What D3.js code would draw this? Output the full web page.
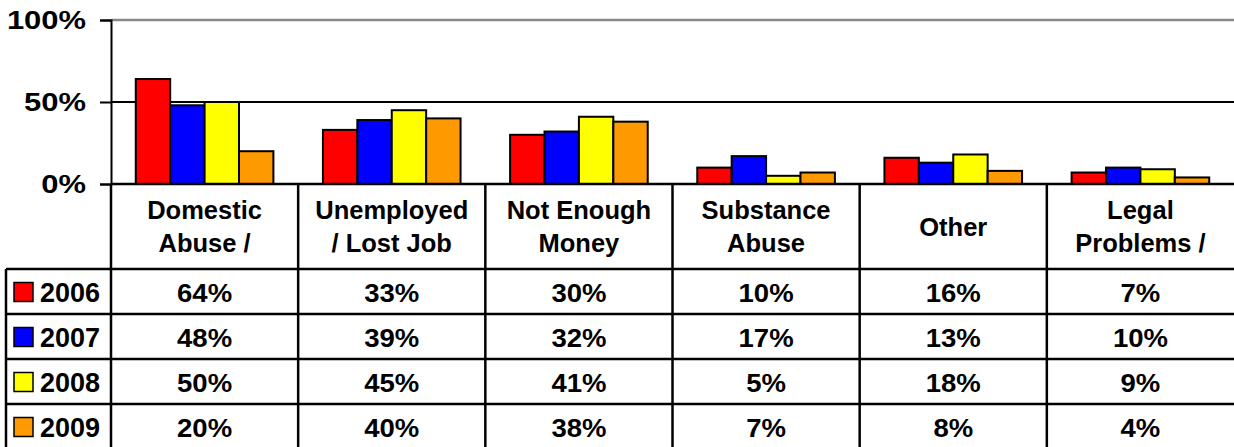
<!DOCTYPE html>
<html>
<head>
<meta charset="utf-8">
<script src="https://cdn.jsdelivr.net/npm/d3@7"></script>
<style>
  html, body { margin: 0; padding: 0; background: #fff; }
  svg { display: block; }
  text { font-family: "Liberation Sans", Arial, Helvetica, sans-serif; font-weight: bold; fill: #000; }
</style>
</head>
<body>
<svg id="chart" width="1234" height="447"></svg>
<script>
const categories = ["Domestic Abuse /", "Unemployed / Lost Job", "Not Enough Money", "Substance Abuse", "Other", "Legal Problems /"];
const categoryLines = [["Domestic", "Abuse /"], ["Unemployed", "/ Lost Job"], ["Not Enough", "Money"], ["Substance", "Abuse"], ["Other"], ["Legal", "Problems /"]];
const years = ["2006", "2007", "2008", "2009"];
const values2006 = [64, 33, 30, 10, 16, 7];
const values2007 = [48, 39, 32, 17, 13, 10];
const values2008 = [50, 45, 41, 5, 18, 9];
const values2009 = [20, 40, 38, 7, 8, 4];
const colors = ["#FF0000", "#0000FF", "#FFFF00", "#FF9900"];
const yTicks = [0, 50, 100];

const series = [values2006, values2007, values2008, values2009];

const svg = d3.select("#chart");
const W = 1234, H = 447;
const plotLeft = 111, plotRight = 1234;
const yTop = 20, yBottom = 184;
const headerBottom = 269;
const rowH = 45;
const tableLeft = 6;

const x = d3.scaleBand().domain(categories).range([plotLeft, plotRight]).padding(0);
const x1 = d3.scaleBand().domain(years).range([0, x.bandwidth()]).paddingInner(0).paddingOuter(0.72);
const y = d3.scaleLinear().domain([0, 100]).range([yBottom, yTop]);

// gridlines
svg.append("g").selectAll("line").data(yTicks.filter(d => d > 0)).join("line")
  .attr("x1", plotLeft).attr("x2", plotRight)
  .attr("y1", d => y(d)).attr("y2", d => y(d))
  .attr("stroke", d => d === 100 ? "#888" : "#000")
  .attr("stroke-width", d => d === 100 ? 2.5 : 2);

// bars
const groups = svg.append("g").selectAll("g").data(categories).join("g")
  .attr("transform", d => `translate(${x(d)},0)`);
groups.selectAll("rect").data((c, i) => years.map((yr, j) => ({yr, v: series[j][i], j}))).join("rect")
  .attr("x", d => x1(d.yr))
  .attr("width", x1.bandwidth())
  .attr("y", d => y(d.v))
  .attr("height", d => yBottom - y(d.v))
  .attr("fill", d => colors[d.j])
  .attr("stroke", "#000")
  .attr("stroke-width", 2);

// y axis
const yAxis = svg.append("g").attr("transform", `translate(${plotLeft},0)`)
  .call(d3.axisLeft(y).tickValues(yTicks).tickFormat(d => d + "%").tickSize(11).tickPadding(25));
yAxis.select(".domain").attr("stroke", "#000").attr("stroke-width", 2);
yAxis.selectAll(".tick line").attr("stroke", "#000").attr("stroke-width", 2);
yAxis.selectAll(".tick text")
  .attr("font-size", 26)
  .attr("font-family", '"Liberation Sans", Arial, sans-serif')
  .attr("font-weight", "bold").attr("fill", "#000")
  .attr("x", 0).attr("dy", null)
  .attr("transform", "translate(-25,8) scale(1.19,1)");

// table lines
const tbl = svg.append("g");
tbl.append("line").attr("x1", plotLeft).attr("x2", plotRight).attr("y1", yBottom).attr("y2", yBottom)
  .attr("stroke", "#000").attr("stroke-width", 2.5);
const rowYs = d3.range(years.length).map(i => headerBottom + i * rowH);
tbl.selectAll("line.row").data(rowYs).join("line").attr("class", "row")
  .attr("x1", tableLeft).attr("x2", plotRight).attr("y1", d => d).attr("y2", d => d)
  .attr("stroke", "#000").attr("stroke-width", 2.5);
tbl.selectAll("line.col").data(categories).join("line").attr("class", "col")
  .attr("x1", d => x(d)).attr("x2", d => x(d)).attr("y1", yBottom).attr("y2", H)
  .attr("stroke", "#000").attr("stroke-width", 2.5);
tbl.append("line").attr("x1", tableLeft).attr("x2", tableLeft).attr("y1", headerBottom).attr("y2", H)
  .attr("stroke", "#000").attr("stroke-width", 2.5);

// category headers
const hdr = svg.append("g").selectAll("text").data(categories).join("text")
  .attr("text-anchor", "middle")
  .attr("font-size", 25.5)
  .attr("x", d => x(d) + x.bandwidth() / 2);
hdr.each(function(d, i) {
  const lines = categoryLines[i];
  const t = d3.select(this);
  const lh = 33;
  const mid = (yBottom + headerBottom) / 2 + 9;
  const start = mid - (lines.length - 1) * lh / 2;
  lines.forEach((ln, k) => {
    t.append("tspan").attr("x", x(d) + x.bandwidth() / 2).attr("y", start + k * lh).text(ln);
  });
});

// legend cells
const leg = svg.append("g").selectAll("g").data(years).join("g")
  .attr("transform", (d, i) => `translate(0,${headerBottom + i * rowH + rowH / 2})`);
leg.append("rect").attr("x", 14).attr("y", -9).attr("width", 19).attr("height", 19)
  .attr("fill", (d, i) => colors[i]).attr("stroke", "#000").attr("stroke-width", 1.5);
leg.append("text").attr("x", 40).attr("y", 10).attr("font-size", 27).text(d => d);

// values
years.forEach((yr, j) => {
  svg.append("g").selectAll("text").data(categories).join("text")
    .attr("text-anchor", "middle")
    .attr("font-size", 25)
    .attr("transform", d => `translate(${x(d) + x.bandwidth() / 2},${headerBottom + j * rowH + rowH / 2 + 10}) scale(1.1,1)`)
    .text((d, i) => series[j][i] + "%");
});
</script>
</body>
</html>
